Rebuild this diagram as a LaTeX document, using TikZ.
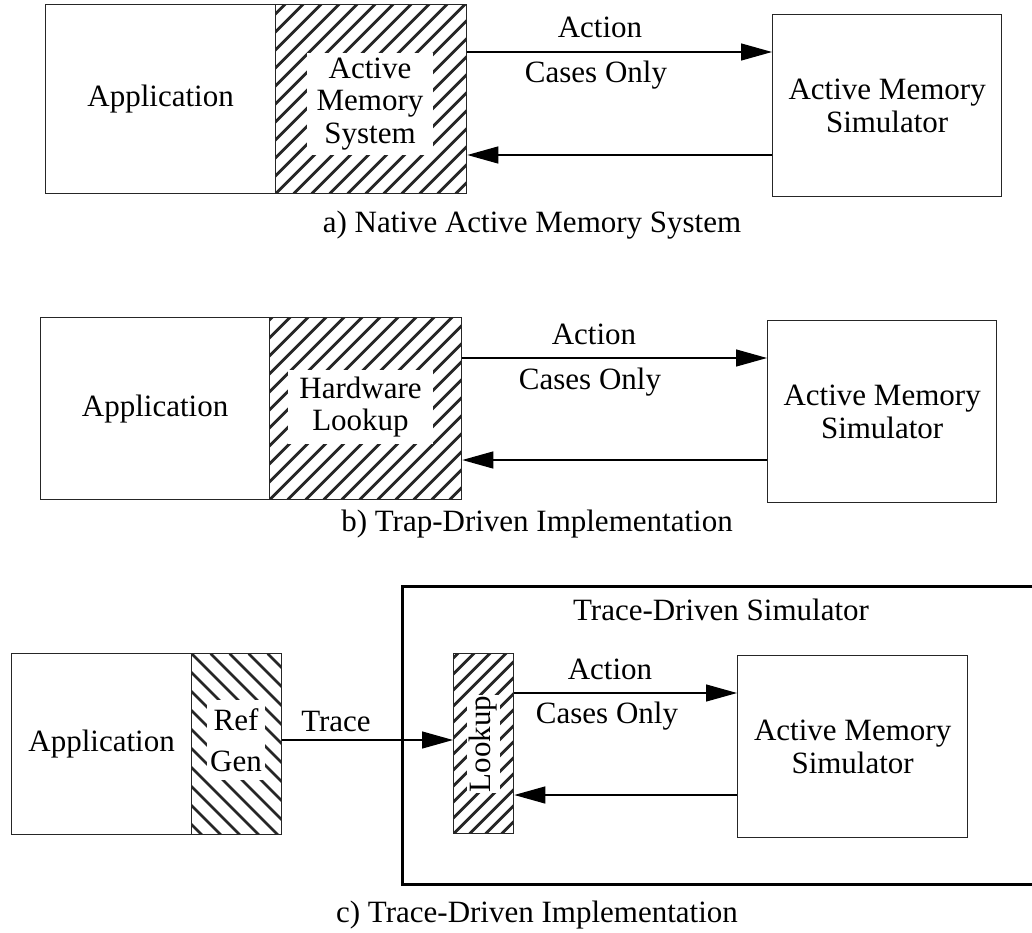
\documentclass[tikz,border=0pt]{standalone}
\usepackage{fontspec}
\setmainfont{Liberation Serif}
\usetikzlibrary{arrows.meta,calc}
\tikzset{
  txt/.style={font=\fontsize{31}{32.5}\selectfont, inner sep=0pt, align=center, text=black},
  plainbox/.style={draw=black!85, line width=1.3pt, anchor=north west, txt},
  hatchbox/.style={plainbox, path picture={\foreach \k in {-22,...,22}{\draw[line width=2.8pt] ([xshift=\k*#1]path picture bounding box.south west) -- ++(400pt,400pt);}}},
  hatchboxL/.style={plainbox, path picture={\foreach \k in {-22,...,22}{\draw[line width=2.8pt] ([xshift=\k*#1]path picture bounding box.north west) -- ++(400pt,-400pt);}}},
  wlabel/.style={txt, fill=white},
  lbl/.style={txt, anchor=base},
  outerbox/.style={draw=black, line width=2.8pt, anchor=north west, inner sep=0pt},
  arr/.style={-{Triangle[length=31pt,width=17pt]}, line width=1.3pt, draw=black}
}
\begin{document}
\begin{tikzpicture}[x=1pt,y=-1pt]
\useasboundingbox (0,0) rectangle (1032,933);
\clip (0,0) rectangle (1032,933);
% ---------- a ----------
\node[plainbox, minimum width=230pt, minimum height=189pt] (appA) at (45,4) {Application};
\node[hatchbox=18pt, minimum width=191pt, minimum height=189pt] (hatA) at (275,4) {};
\node[wlabel, minimum width=126pt, minimum height=102pt] (hatAt) at (370,104) {Active\\Memory\\System};
\node[plainbox, minimum width=229pt, minimum height=182pt] (simA) at (772,14) {Active Memory\\Simulator};
\coordinate (pA1) at ([yshift=-48pt]hatA.north east);
\coordinate (pA2) at ([yshift=-151pt]hatA.north east);
\draw[arr] (pA1) -- (pA1 -| simA.west);
\draw[arr] (pA2 -| simA.west) -- (pA2);
\node[lbl] (actA) at (600,38) {Action};
\node[lbl] (casA) at (596,83) {Cases Only};
\node[lbl] (capA) at (532,233) {a) Native Active Memory System};
% ---------- b ----------
\node[plainbox, minimum width=229pt, minimum height=182pt] (appB) at (40,317) {Application};
\node[hatchbox=18pt, minimum width=192pt, minimum height=182pt] (hatB) at (269,317) {};
\node[wlabel, minimum width=145pt, minimum height=74pt] (hatBt) at (360.5,407) {Hardware\\Lookup};
\node[plainbox, minimum width=229pt, minimum height=182pt] (simB) at (767,320) {Active Memory\\Simulator};
\coordinate (pB1) at ([yshift=-41pt]hatB.north east);
\coordinate (pB2) at ([yshift=-143pt]hatB.north east);
\draw[arr] (pB1) -- (pB1 -| simB.west);
\draw[arr] (pB2 -| simB.west) -- (pB2);
\node[lbl] (actB) at (594,344) {Action};
\node[lbl] (casB) at (590,389) {Cases Only};
\node[lbl] (capB) at (537,531) {b) Trap-Driven Implementation};
% ---------- c ----------
\node[outerbox, minimum width=645pt, minimum height=298pt] (tds) at (401,585) {};
\node[lbl] (tdsl) at (721,620) {Trace-Driven Simulator};
\node[plainbox, minimum width=180pt, minimum height=181pt] (appC) at (11,653) {Application};
\node[hatchboxL=19pt, minimum width=90pt, minimum height=181pt] (refC) at (191,653) {};
\node[wlabel, minimum width=58pt, minimum height=80pt] (refCt) at (236,740) {Ref\\[8pt]Gen};
\node[hatchbox=16pt, minimum width=60pt, minimum height=180pt] (lookC) at (453,653) {};
\node[wlabel, rotate=90, minimum width=98pt, minimum height=33pt] (lookCt) at (483.5,744) {Lookup};
\node[plainbox, minimum width=230pt, minimum height=182pt] (simC) at (737,655) {Active Memory\\Simulator};
\coordinate (pT) at ([yshift=-87pt]refC.north east);
\draw[arr] (pT) -- (pT -| lookC.west);
\coordinate (pC1) at ([yshift=-40pt]lookC.north east);
\coordinate (pC2) at ([yshift=-142pt]lookC.north east);
\draw[arr] (pC1) -- (pC1 -| simC.west);
\draw[arr] (pC2 -| simC.west) -- (pC2);
\node[lbl] (trc) at (336,731) {Trace};
\node[lbl] (actC) at (610,679) {Action};
\node[lbl] (casC) at (607,723) {Cases Only};
\node[lbl] (capC) at (537,922) {c) Trace-Driven Implementation};
\end{tikzpicture}
\end{document}
